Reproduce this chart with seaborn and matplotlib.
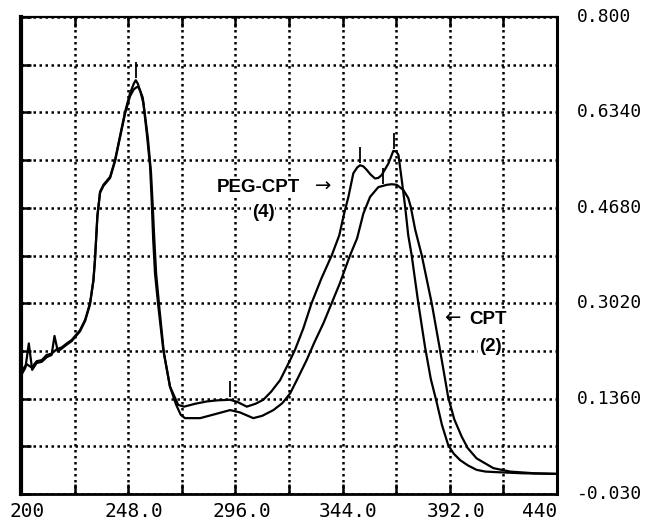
import numpy as np
import pandas as pd
import matplotlib
matplotlib.use("Agg")
import matplotlib.pyplot as plt
import matplotlib.transforms as mtransforms
import seaborn as sns

# ---------------- data ----------------
peg_wl = [200.0, 202.5, 204.8, 207.0, 209.3, 211.5, 213.7, 216.0, 218.2, 220.5, 222.7,
          226.4, 228.7, 230.9, 232.4, 233.1, 233.6, 234.2, 235.4, 236.9, 239.9,
          242.1, 244.3, 246.6, 248.8, 250.5, 251.4, 252.3, 253.5, 254.8, 256.3,
          257.8, 258.5, 259.2, 260.0, 261.5, 263.7, 266.7, 270.4, 273.0, 278.0,
          283.1, 288.0, 293.6, 297.0, 301.1, 305.0, 308.5, 312.0, 316.0, 320.5,
          322.7, 326.4, 330.1, 334.5, 339.1, 342.5, 344.5, 346.6, 348.8, 350.5,
          351.8, 353.3, 354.8, 356.5, 358.5, 360.0, 361.5, 364.5, 366.7, 368.0,
          369.0, 370.5, 372.0, 373.4, 374.9, 377.9, 380.9, 383.5, 386.1, 388.5,
          391.3, 393.8, 396.6, 400.0, 404.0, 408.0, 413.0, 425.0, 440.0]
peg_abs = [0.182, 0.196, 0.190, 0.201, 0.203, 0.212, 0.214, 0.222, 0.225, 0.232, 0.238,
           0.255, 0.273, 0.302, 0.342, 0.377, 0.412, 0.455, 0.496, 0.508, 0.522,
           0.551, 0.592, 0.635, 0.667, 0.684, 0.690, 0.684, 0.670, 0.650, 0.598,
           0.540, 0.482, 0.412, 0.354, 0.296, 0.221, 0.157, 0.125, 0.122, 0.127,
           0.131, 0.133, 0.134, 0.130, 0.122, 0.127, 0.134, 0.148, 0.168, 0.203,
           0.221, 0.258, 0.302, 0.345, 0.385, 0.420, 0.455, 0.487, 0.528, 0.538,
           0.542, 0.540, 0.534, 0.526, 0.519, 0.520, 0.525, 0.545, 0.567, 0.566,
           0.560, 0.516, 0.470, 0.420, 0.386, 0.302, 0.226, 0.170, 0.130, 0.090,
           0.055, 0.040, 0.029, 0.020, 0.012, 0.009, 0.008, 0.006, 0.005]

cpt_wl = [200.0, 202.0, 203.5, 205.0, 207.0, 209.3, 211.5, 213.7, 215.0, 216.5, 218.2,
          220.5, 222.7, 226.4, 228.7, 230.9, 232.4, 233.1, 233.6, 234.2, 235.4,
          236.9, 239.9, 242.1, 244.3, 246.6, 248.8, 250.5, 251.8, 252.5, 253.3,
          254.5, 255.5, 256.8, 258.2, 259.0, 259.7, 260.5, 262.0, 264.0, 266.7,
          269.5, 271.5, 273.4, 280.2, 286.0, 293.6, 298.0, 304.0, 308.0, 313.0,
          317.0, 320.5, 324.0, 327.9, 331.5, 335.4, 339.1, 342.8, 347.3, 350.5,
          353.3, 356.3, 360.0, 363.8, 366.0, 368.2, 371.2, 373.4, 374.5, 376.5,
          379.4, 383.9, 387.6, 391.3, 394.0, 397.3, 400.0, 404.0, 411.5, 419.0,
          430.0, 440.0]
cpt_abs = [0.176, 0.190, 0.232, 0.186, 0.198, 0.200, 0.208, 0.212, 0.245, 0.218, 0.223,
           0.230, 0.236, 0.253, 0.271, 0.300, 0.340, 0.375, 0.410, 0.452, 0.494,
           0.506, 0.520, 0.549, 0.590, 0.632, 0.662, 0.674, 0.678, 0.678, 0.672,
           0.660, 0.630, 0.590, 0.530, 0.470, 0.412, 0.354, 0.292, 0.215, 0.157,
           0.125, 0.108, 0.102, 0.102, 0.108, 0.116, 0.112, 0.102, 0.106, 0.116,
           0.128, 0.145, 0.172, 0.203, 0.235, 0.267, 0.302, 0.337, 0.385, 0.415,
           0.458, 0.487, 0.504, 0.508, 0.509, 0.508, 0.499, 0.485, 0.470, 0.430,
           0.386, 0.302, 0.221, 0.138, 0.100, 0.070, 0.050, 0.032, 0.015, 0.009,
           0.006, 0.005]

peg_marks = [251.4, 293.6, 351.8, 367.0]
cpt_marks = [362.0]

x_ticks = [200, 248, 296, 344, 392, 440]
x_tick_labels = ["200", "248.0", "296.0", "344.0", "392.0", "440"]
y_ticks = [0.800, 0.634, 0.468, 0.302, 0.136, -0.030]
y_tick_labels = ["0.800", "0.6340", "0.4680", "0.3020", "0.1360", "-0.030"]

# ---------------- figure ----------------
sns.set_style("white")
plt.rcParams['font.family'] = ['Liberation Sans', 'DejaVu Sans']

fig = plt.figure(figsize=(6.45, 5.27), dpi=100)
ax = fig.add_axes([21/645, 1 - 494/527, (557 - 21)/645, (494 - 17)/527])

df = pd.concat([
    pd.DataFrame({"wl": peg_wl, "A": peg_abs, "s": "PEG-CPT"}),
    pd.DataFrame({"wl": cpt_wl, "A": cpt_abs, "s": "CPT"}),
])
sns.lineplot(data=df, x="wl", y="A", hue="s", units="s", estimator=None, sort=False,
             palette={"PEG-CPT": "black", "CPT": "black"}, lw=1.6,
             legend=False, ax=ax)

# peak markers
for wl, ab, marks in [(peg_wl, peg_abs, peg_marks), (cpt_wl, cpt_abs, cpt_marks)]:
    ym = np.interp(marks, wl, ab)
    ax.plot(marks, ym + 0.018, ls="none", marker="|", ms=11, mew=1.3, color="black")

ax.set_xlim(200, 440)
ax.set_ylim(-0.030, 0.800)

# grid lines every 24 nm / 0.083
ax.set_xticks(np.linspace(200, 440, 11))
ax.set_yticks(np.linspace(-0.030, 0.800, 11))
ax.grid(True, color="black", linestyle=(0, (1.0, 1.4)), linewidth=1.8)
ax.tick_params(axis="both", which="major", direction="in", length=7, width=1.8,
               labelbottom=False, labelleft=False, top=True, bottom=True, left=True,
               right=False, colors="black")
for side, lw in [("left", 3.0), ("bottom", 2.0), ("right", 2.2), ("top", 1.6)]:
    ax.spines[side].set_visible(True)
    ax.spines[side].set_color("black")
    ax.spines[side].set_linewidth(lw)

ax.set_xlabel("")
ax.set_ylabel("")

# tick labels as text (monospace, like the instrument printout)
xlab_font = dict(family=['DejaVu Sans Mono'], fontsize=14, color="black")
ylab_font = dict(family=['DejaVu Sans Mono'], fontsize=13, color="black")
xt = ax.get_xaxis_transform()
for i, (v, s) in enumerate(zip(x_ticks, x_tick_labels)):
    if i == len(x_ticks) - 1:
        ax.text(v, -0.016, s, transform=xt, ha="right", va="top", **xlab_font)
    else:
        off = mtransforms.ScaledTranslation(6/100, 0, fig.dpi_scale_trans)
        ax.text(v, -0.016, s, transform=xt + off, ha="center", va="top", **xlab_font)
yt = ax.get_yaxis_transform()
for v, s in zip(y_ticks, y_tick_labels):
    ax.text(1.038, v, s, transform=yt, ha="left", va="center", **ylab_font)

# annotations
ann = dict(fontsize=13.5, fontweight="bold", color="black",
           family=['Liberation Sans', 'DejaVu Sans'],
           bbox=dict(facecolor="white", edgecolor="none", pad=0.5))
arr = dict(fontsize=14, color="black", family=['DejaVu Sans'])
ax.text(287.8, 0.504, "PEG-CPT", ha="left", va="center", **ann)
ax.text(331.5, 0.506, "\u2192", ha="left", va="center", **arr)
ax.text(308.4, 0.459, "(4)", ha="center", va="center", **ann)
ax.text(389.5, 0.275, "\u2190", ha="left", va="center", **arr)
ax.text(400.5, 0.273, "CPT", ha="left", va="center", **ann)
ax.text(410.0, 0.226, "(2)", ha="center", va="center", **ann)

fig.savefig("out.png", dpi=100, facecolor="white")
